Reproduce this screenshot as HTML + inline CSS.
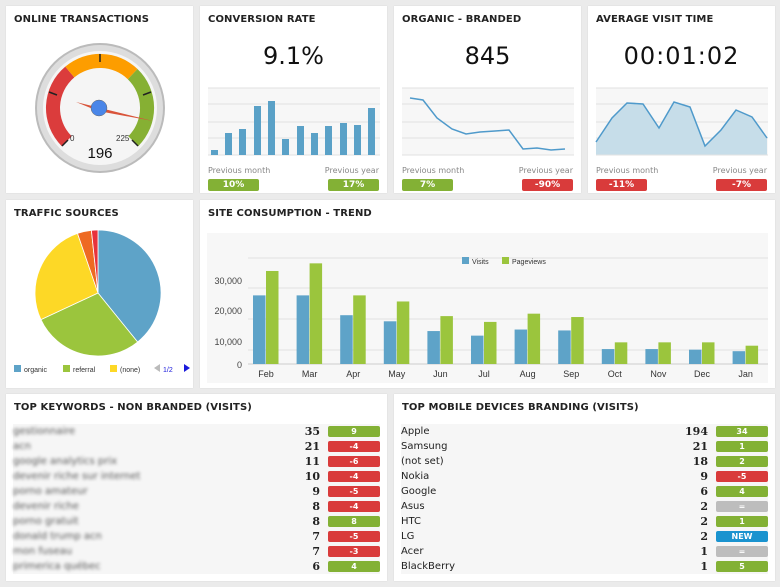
<!DOCTYPE html>
<html><head><meta charset="utf-8"><style>
body{margin:0;width:780px;height:587px;background:#ebebeb;font-family:"DejaVu Sans",Verdana,sans-serif;position:relative;overflow:hidden}
.p{position:absolute;background:#fff;box-shadow:0 0 1px #ccc}
.t{position:absolute;left:8px;top:8px;font-size:10px;font-weight:bold;color:#222;letter-spacing:0.1px}
.big{position:absolute;left:0;right:0;top:36px;text-align:center;font-size:24px;color:#111}
.lb{position:absolute;font-size:8px;color:#888;top:160px}
.bd{position:absolute;top:173px;width:51px;height:12px;border-radius:2px;color:#fff;font-size:9px;font-weight:bold;text-align:center;line-height:12px}
.g{background:#83b135}.r{background:#d93b3b}.gr{background:#bdbdbd}.bl{background:#1a93cf}
.row{position:absolute;left:7px;right:7px;height:15px;font-size:10px;color:#222;line-height:15px}
.row:nth-child(even){background:#f6f6f6}
.row .n{position:absolute;right:60px;font-weight:bold;font-size:11px;font-family:"DejaVu Serif",serif}
.row .b{position:absolute;right:0;top:2px;width:52px;height:11px;border-radius:2px;color:#fff;font-size:8px;font-weight:bold;text-align:center;line-height:11px}
.blur{filter:blur(1.6px);color:#555;padding-left:0}
</style></head><body>

<div class="p" style="left:6px;top:6px;width:187px;height:187px">
<div class="t">ONLINE TRANSACTIONS</div>
<svg width="187" height="187" style="position:absolute;left:0;top:0">
<circle cx="94" cy="102" r="65" fill="#bbb"/><circle cx="94" cy="102" r="63" fill="#ddd"/>
<circle cx="94" cy="102" r="57" fill="#f5f5f5"/>
<path d="M55.8,140.2 A54,54 0 0 1 59.3,60.6 L68.3,71.4 A40,40 0 0 0 65.7,130.3Z" fill="#db3c3c"/>
<path d="M59.3,60.6 A54,54 0 0 1 131.5,63 L121.8,73.2 A40,40 0 0 0 68.3,71.4Z" fill="#fd9d00"/>
<path d="M131.5,63 A54,54 0 0 1 132.2,140.2 L122.3,130.3 A40,40 0 0 0 121.8,73.2Z" fill="#86b033"/>
<g stroke="#222" stroke-width="1.5"><line x1="94" y1="48" x2="94" y2="56"/><line x1="43" y1="86" x2="51" y2="89"/><line x1="145" y1="86" x2="137" y2="89"/><line x1="56" y1="140" x2="62" y2="134"/><line x1="132" y1="140" x2="126" y2="134"/></g>
<polygon points="70,96 147,115 92,105" fill="#d9543a"/>
<circle cx="93" cy="102" r="8" fill="#4a86e8" stroke="#666" stroke-width="0.5"/>
<text x="64" y="135" font-size="8" fill="#333" font-family="Liberation Sans">0</text>
<text x="110" y="135" font-size="8" fill="#333" font-family="Liberation Sans">225</text>
<text x="94" y="152" font-size="15" fill="#111" text-anchor="middle" font-family="Liberation Sans">196</text>
</svg></div>

<div class="p" style="left:200px;top:6px;width:187px;height:187px">
<div class="t">CONVERSION RATE</div><div class="big">9.1%</div>
<svg width="187" height="187" style="position:absolute;left:0;top:0">
<rect x="8" y="82" width="172" height="67" fill="#f7f7f7"/>
<g stroke="#e2e2e2"><line x1="8" y1="82" x2="180" y2="82"/><line x1="8" y1="98" x2="180" y2="98"/><line x1="8" y1="116" x2="180" y2="116"/><line x1="8" y1="132" x2="180" y2="132"/><line x1="8" y1="149" x2="180" y2="149"/></g>
<g fill="#5aa1c7">
<rect x="11" y="144" width="7" height="5"/><rect x="25" y="127" width="7" height="22"/><rect x="39" y="123" width="7" height="26"/><rect x="54" y="100" width="7" height="49"/><rect x="68" y="95" width="7" height="54"/><rect x="82" y="133" width="7" height="16"/><rect x="97" y="120" width="7" height="29"/><rect x="111" y="127" width="7" height="22"/><rect x="125" y="120" width="7" height="29"/><rect x="140" y="117" width="7" height="32"/><rect x="154" y="119" width="7" height="30"/><rect x="168" y="102" width="7" height="47"/></g></svg>
<div class="lb" style="left:8px">Previous month</div><div class="lb" style="right:8px">Previous year</div>
<div class="bd g" style="left:8px">10%</div><div class="bd g" style="right:8px">17%</div></div>

<div class="p" style="left:394px;top:6px;width:187px;height:187px">
<div class="t">ORGANIC - BRANDED</div><div class="big">845</div>
<svg width="187" height="187" style="position:absolute;left:0;top:0">
<rect x="8" y="82" width="172" height="67" fill="#f7f7f7"/>
<g stroke="#e2e2e2"><line x1="8" y1="82" x2="180" y2="82"/><line x1="8" y1="98" x2="180" y2="98"/><line x1="8" y1="116" x2="180" y2="116"/><line x1="8" y1="132" x2="180" y2="132"/><line x1="8" y1="149" x2="180" y2="149"/></g>
<polyline fill="none" stroke="#4f9acb" stroke-width="1.5" points="16,92 29,94 43,112 58,123 72,128 86,126 101,125 115,124 129,143 143,142 157,144 171,143"/></svg>
<div class="lb" style="left:8px">Previous month</div><div class="lb" style="right:8px">Previous year</div>
<div class="bd g" style="left:8px">7%</div><div class="bd r" style="right:8px">-90%</div></div>

<div class="p" style="left:588px;top:6px;width:187px;height:187px">
<div class="t">AVERAGE VISIT TIME</div><div class="big" style="letter-spacing:1px">00:01:02</div>
<svg width="187" height="187" style="position:absolute;left:0;top:0">
<rect x="8" y="82" width="172" height="67" fill="#f7f7f7"/>
<g stroke="#e2e2e2"><line x1="8" y1="82" x2="180" y2="82"/><line x1="8" y1="98" x2="180" y2="98"/><line x1="8" y1="116" x2="180" y2="116"/><line x1="8" y1="132" x2="180" y2="132"/></g>
<polygon fill="#c6dde9" points="8,149 8,136 24,112 39,97 55,98 71,122 86,96 102,101 117,140 133,124 148,104 164,111 179,132 179,149"/>
<polyline fill="none" stroke="#4f9acb" stroke-width="1.5" points="8,136 24,112 39,97 55,98 71,122 86,96 102,101 117,140 133,124 148,104 164,111 179,132"/>
<line x1="8" y1="149" x2="180" y2="149" stroke="#e2e2e2"/></svg>
<div class="lb" style="left:8px">Previous month</div><div class="lb" style="right:8px">Previous year</div>
<div class="bd r" style="left:8px">-11%</div><div class="bd r" style="right:8px">-7%</div></div>

<div class="p" style="left:6px;top:200px;width:187px;height:188px">
<div class="t">TRAFFIC SOURCES</div>
<svg width="187" height="188" style="position:absolute;left:0;top:0">
<g stroke="#fff" stroke-width="0.8">
<path d="M92,93 L92,30 A63,63 0 0 1 131.6,142 Z" fill="#5ea3c8"/>
<path d="M92,93 L131.6,142 A63,63 0 0 1 34.9,119.6 Z" fill="#9bc53d"/>
<path d="M92,93 L34.9,119.6 A63,63 0 0 1 71.5,33.4 Z" fill="#fdd826"/>
<path d="M92,93 L71.5,33.4 A63,63 0 0 1 85.4,30.3 Z" fill="#ee6a22"/>
<path d="M92,93 L85.4,30.3 A63,63 0 0 1 92,30 Z" fill="#e8323c"/></g>
<rect x="8" y="165" width="7" height="7" fill="#5ea3c8"/><text x="18" y="172" font-size="7" fill="#333" font-family="Liberation Sans">organic</text>
<rect x="57" y="165" width="7" height="7" fill="#9bc53d"/><text x="67" y="172" font-size="7" fill="#333" font-family="Liberation Sans">referral</text>
<rect x="104" y="165" width="7" height="7" fill="#fdd826"/><text x="114" y="172" font-size="7" fill="#333" font-family="Liberation Sans">(none)</text>
<polygon points="148,168 154,164 154,172" fill="#bbb"/><text x="157" y="172" font-size="7" fill="#1a1adb" font-family="Liberation Sans">1/2</text><polygon points="178,164 184,168 178,172" fill="#1a1adb"/>
</svg></div>

<div class="p" style="left:200px;top:200px;width:575px;height:188px">
<div class="t">SITE CONSUMPTION - TREND</div>
<svg width="575" height="188" style="position:absolute;left:0;top:0;font-family:'Liberation Sans'">
<rect x="7" y="33" width="561" height="150" fill="#f7f7f7"/>
<g stroke="#e0e0e0"><line x1="48" y1="58" x2="568" y2="58"/><line x1="48" y1="88" x2="568" y2="88"/><line x1="48" y1="119" x2="568" y2="119"/><line x1="48" y1="150" x2="568" y2="150"/></g>
<line x1="48" y1="164" x2="568" y2="164" stroke="#ccc"/>
<g font-size="9" fill="#444" text-anchor="end"><text x="42" y="84">30,000</text><text x="42" y="114">20,000</text><text x="42" y="145">10,000</text><text x="42" y="168">0</text></g>
<rect x="262" y="57" width="7" height="7" fill="#5ea3c8"/><text x="272" y="64" font-size="7" fill="#333">Visits</text>
<rect x="302" y="57" width="7" height="7" fill="#9bc53d"/><text x="312" y="64" font-size="7" fill="#333">Pageviews</text>
<g id="bars"></g>
<g font-size="9" fill="#333" text-anchor="middle" id="ml"></g>
</svg></div>

<div class="p" style="left:6px;top:394px;width:381px;height:187px">
<div class="t">TOP KEYWORDS - NON BRANDED (VISITS)</div>
<div style="position:absolute;left:0;right:0;top:30px">
<div class="row" style="top:0;background:#f6f6f6"><span class="blur">gestionnaire</span><span class="n">35</span><span class="b g">9</span></div>
<div class="row" style="top:15px"><span class="blur">acn</span><span class="n">21</span><span class="b r">-4</span></div>
<div class="row" style="top:30px;background:#f6f6f6"><span class="blur">google analytics prix</span><span class="n">11</span><span class="b r">-6</span></div>
<div class="row" style="top:45px"><span class="blur">devenir riche sur internet</span><span class="n">10</span><span class="b r">-4</span></div>
<div class="row" style="top:60px;background:#f6f6f6"><span class="blur">porno amateur</span><span class="n">9</span><span class="b r">-5</span></div>
<div class="row" style="top:75px"><span class="blur">devenir riche</span><span class="n">8</span><span class="b r">-4</span></div>
<div class="row" style="top:90px;background:#f6f6f6"><span class="blur">porno gratuit</span><span class="n">8</span><span class="b g">8</span></div>
<div class="row" style="top:105px"><span class="blur">donald trump acn</span><span class="n">7</span><span class="b r">-5</span></div>
<div class="row" style="top:120px;background:#f6f6f6"><span class="blur">mon fuseau</span><span class="n">7</span><span class="b r">-3</span></div>
<div class="row" style="top:135px"><span class="blur">primerica québec</span><span class="n">6</span><span class="b g">4</span></div>
</div></div>

<div class="p" style="left:394px;top:394px;width:381px;height:187px">
<div class="t">TOP MOBILE DEVICES BRANDING (VISITS)</div>
<div style="position:absolute;left:0;right:0;top:30px">
<div class="row" style="top:0;background:#f6f6f6">Apple<span class="n">194</span><span class="b g">34</span></div>
<div class="row" style="top:15px">Samsung<span class="n">21</span><span class="b g">1</span></div>
<div class="row" style="top:30px;background:#f6f6f6">(not set)<span class="n">18</span><span class="b g">2</span></div>
<div class="row" style="top:45px">Nokia<span class="n">9</span><span class="b r">-5</span></div>
<div class="row" style="top:60px;background:#f6f6f6">Google<span class="n">6</span><span class="b g">4</span></div>
<div class="row" style="top:75px">Asus<span class="n">2</span><span class="b gr">=</span></div>
<div class="row" style="top:90px;background:#f6f6f6">HTC<span class="n">2</span><span class="b g">1</span></div>
<div class="row" style="top:105px">LG<span class="n">2</span><span class="b bl">NEW</span></div>
<div class="row" style="top:120px;background:#f6f6f6">Acer<span class="n">1</span><span class="b gr">=</span></div>
<div class="row" style="top:135px">BlackBerry<span class="n">1</span><span class="b g">5</span></div>
</div></div>

<script>
var m=["Feb","Mar","Apr","May","Jun","Jul","Aug","Sep","Oct","Nov","Dec","Jan"];
var v=[22.5,22.5,16,14,10.8,9.3,11.3,11,4.9,4.9,4.7,4.2];
var p=[30.5,33,22.5,20.5,15.7,13.8,16.5,15.4,7.1,7.1,7.1,6];
var b="",l="";
for(var i=0;i<12;i++){var c=66+i*43.6,h1=v[i]*3.05,h2=p[i]*3.05;
b+='<rect x="'+(c-13)+'" y="'+(164-h1)+'" width="12.5" height="'+h1+'" fill="#5ea3c8"/>';
b+='<rect x="'+c+'" y="'+(164-h2)+'" width="12.5" height="'+h2+'" fill="#9bc53d"/>';
l+='<text x="'+c+'" y="177">'+m[i]+'</text>';}
document.getElementById("bars").innerHTML=b;document.getElementById("ml").innerHTML=l;
</script>
</body></html>
